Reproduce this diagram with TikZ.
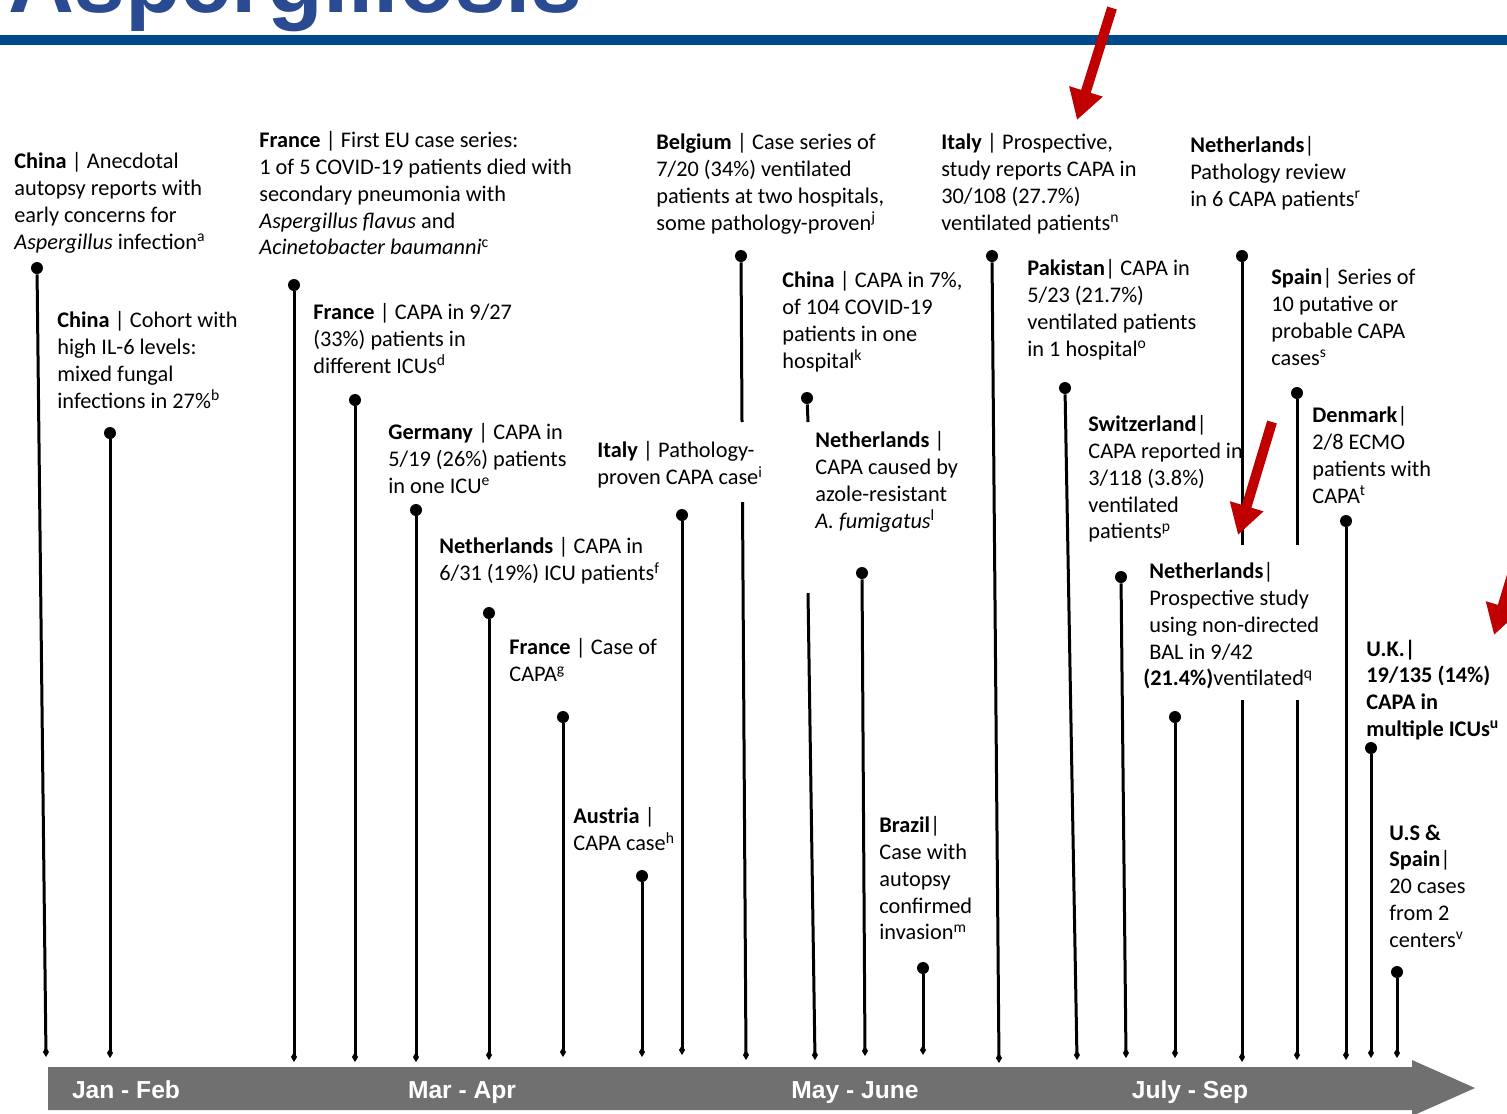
\documentclass[tikz,border=0pt]{standalone}
\usepackage{fontspec}
\setmainfont{Carlito}
\newfontfamily\headfont{Liberation Sans}
\usetikzlibrary{arrows.meta}
\definecolor{titleblue}{RGB}{42,75,145}
\definecolor{ruleblue}{RGB}{0,74,140}
\definecolor{bandgray}{RGB}{112,112,112}
\definecolor{arrowred}{RGB}{192,0,0}

\begin{document}
\begin{tikzpicture}[x=0.02cm,y=-0.02cm,
evtext/.style={anchor=north west,align=left,inner sep=0pt,yshift=-0.07cm,font=\fontsize{12.7}{15.2}\selectfont},
evdot/.style={circle,fill=black,inner sep=0pt,minimum size=0.24cm},
evline/.style={line width=0.06cm,-{Diamond[length=0.2cm,width=0.12cm]}},
evstub/.style={line width=0.06cm},
redarrow/.style={arrowred,line width=0.2cm,-{Triangle[length=0.6cm,width=0.66cm]}},
bandlabel/.style={anchor=base,inner sep=0pt,text=white,font=\headfont\bfseries\fontsize{14}{16}\selectfont}]
\useasboundingbox (0,0) rectangle (1507,1113);
\node[anchor=base west,inner sep=0pt,text=titleblue,font=\headfont\bfseries\fontsize{52}{60}\selectfont] (title) at (8,12) {Aspergillosis};
\fill[ruleblue] (0,35) rectangle (1507,45);

\fill[bandgray] (48,1067) -- (1412,1067) -- (1412,1060) -- (1475,1088) -- (1412,1116) -- (1412,1110) -- (48,1110) -- cycle;
\node[bandlabel] (janfeb) at (126,1098) {Jan - Feb};
\node[bandlabel] (marapr) at (462,1098) {Mar - Apr};
\node[bandlabel] (mayjune) at (855,1098) {May - June};
\node[bandlabel] (julysep) at (1190,1098) {July - Sep};

\foreach \n/\xa/\ya/\xb/\yb in {1/37/268/46/1057, 2/110/433/110/1058, 3/294/285/294/1062, 4/355/400/355/1062, 5/416/510/416/1062, 6/489/613/489/1060, 7/563/717/563/1057, 8/642/876/642/1057, 9/682/515/682/1055, 12/862/573/865/1056, 13/923/968/923/1055, 14/992/256/999/1063, 15/1065/388/1077/1060, 16/1121/577/1126/1058, 17/1175/717/1175/1058, 20/1346/521/1346/1060, 21/1371/748/1371/1058, 22/1397/972/1397/1058} {
\node[evdot] (d\n) at (\xa,\ya) {};
\coordinate (e\n) at (\xb,\yb);
\draw[evline] (d\n) -- (e\n);
}

\foreach \n/\xa/\ya/\xb/\yb/\ga/\gb/\gc/\gd in {10/741/256/746/1060/742/422/742.5/502, 11/807/398/815/1060/808/422/808/593, 18/1242/256/1242/1062/1242/545/1242/700, 19/1297/393/1297/1060/1297/545/1297/700} {
\node[evdot] (d\n) at (\xa,\ya) {};
\coordinate (e\n) at (\xb,\yb);
\coordinate (g\n a) at (\ga,\gb);
\coordinate (g\n b) at (\gc,\gd);
\draw[evstub] (d\n) -- (g\n a);
\draw[evline] (g\n b) -- (e\n);
}

\node[evtext] (chinaA) at (14,149) {\textbf{China} | Anecdotal\\autopsy reports with\\early concerns for\\\textit{Aspergillus} infection\textsuperscript{a}};
\node[evtext] (chinaB) at (57,308) {\textbf{China} | Cohort with\\high IL-6 levels:\\mixed fungal\\infections in 27\%\textsuperscript{b}};
\node[evtext] (franceA) at (259,128) {\textbf{France} | First EU case series:\\1 of 5 COVID-19 patients died with\\secondary pneumonia with\\\textit{Aspergillus flavus} and\\\textit{Acinetobacter baumanni}\textsuperscript{c}};
\node[evtext] (franceB) at (313,300) {\textbf{France} | CAPA in 9/27\\(33\%) patients in\\different ICUs\textsuperscript{d}};
\node[evtext] (germany) at (388,420) {\textbf{Germany} | CAPA in\\5/19 (26\%) patients\\in one ICU\textsuperscript{e}};
\node[evtext] (nethA) at (439,534) {\textbf{Netherlands} | CAPA in\\6/31 (19\%) ICU patients\textsuperscript{f}};
\node[evtext] (franceC) at (509,635) {\textbf{France} | Case of\\CAPA\textsuperscript{g}};
\node[evtext] (austria) at (573,804) {\textbf{Austria} |\\CAPA case\textsuperscript{h}};
\node[evtext] (italyA) at (597,438) {\textbf{Italy} | Pathology-\\proven CAPA case\textsuperscript{i}};
\node[evtext] (belgium) at (656,130) {\textbf{Belgium} | Case series of\\7/20 (34\%) ventilated\\patients at two hospitals,\\some pathology-proven\textsuperscript{j}};
\node[evtext] (chinaC) at (782,268) {\textbf{China} | CAPA in 7\%,\\of 104 COVID-19\\patients in one\\hospital\textsuperscript{k}};
\node[evtext] (nethB) at (815,428) {\textbf{Netherlands} |\\CAPA caused by\\azole-resistant\\\textit{A. fumigatus}\textsuperscript{l}};
\node[evtext] (brazil) at (879,813) {\textbf{Brazil}|\\Case with\\autopsy\\confirmed\\invasion\textsuperscript{m}};
\node[evtext] (italyB) at (941,130) {\textbf{Italy} | Prospective,\\study reports CAPA in\\30/108 (27.7\%)\\ventilated patients\textsuperscript{n}};
\node[evtext] (pakistan) at (1027,256) {\textbf{Pakistan}| CAPA in\\5/23 (21.7\%)\\ventilated patients\\in 1 hospital\textsuperscript{o}};
\node[evtext] (switzerland) at (1088,412) {\textbf{Switzerland}|\\CAPA reported in\\3/118 (3.8\%)\\ventilated\\patients\textsuperscript{p}};
\node[evtext] (nethC) at (1149,559) {\textbf{Netherlands}|\\Prospective study\\using non-directed\\BAL in 9/42\\\hspace*{-0.12cm}\textbf{(21.4\%)}ventilated\textsuperscript{q}};
\node[evtext] (nethD) at (1190,133) {\textbf{Netherlands}|\\Pathology review\\in 6 CAPA patients\textsuperscript{r}};
\node[evtext] (spainA) at (1271,265) {\textbf{Spain}| Series of\\10 putative or\\probable CAPA\\cases\textsuperscript{s}};
\node[evtext] (denmark) at (1312,403) {\textbf{Denmark}|\\2/8 ECMO\\patients with\\CAPA\textsuperscript{t}};
\node[evtext,font=\fontsize{12.7}{15.2}\selectfont\bfseries] (uk) at (1366,636) {U.K.|\\19/135 (14\%)\\CAPA in\\multiple ICUs\textsuperscript{u}};
\node[evtext] (usspain) at (1389,821) {\textbf{U.S \&}\\\textbf{Spain}|\\20 cases\\from 2\\centers\textsuperscript{v}};

\coordinate (ra1) at (1112,8);
\coordinate (rb1) at (1077,120);
\coordinate (ra2) at (1272,422);
\coordinate (rb2) at (1238,535);
\coordinate (ra3) at (1528,522);
\coordinate (rb3) at (1494,635);
\foreach \k in {1,2,3} {
\draw[redarrow] (ra\k) -- (rb\k);
}
\end{tikzpicture}
\end{document}
